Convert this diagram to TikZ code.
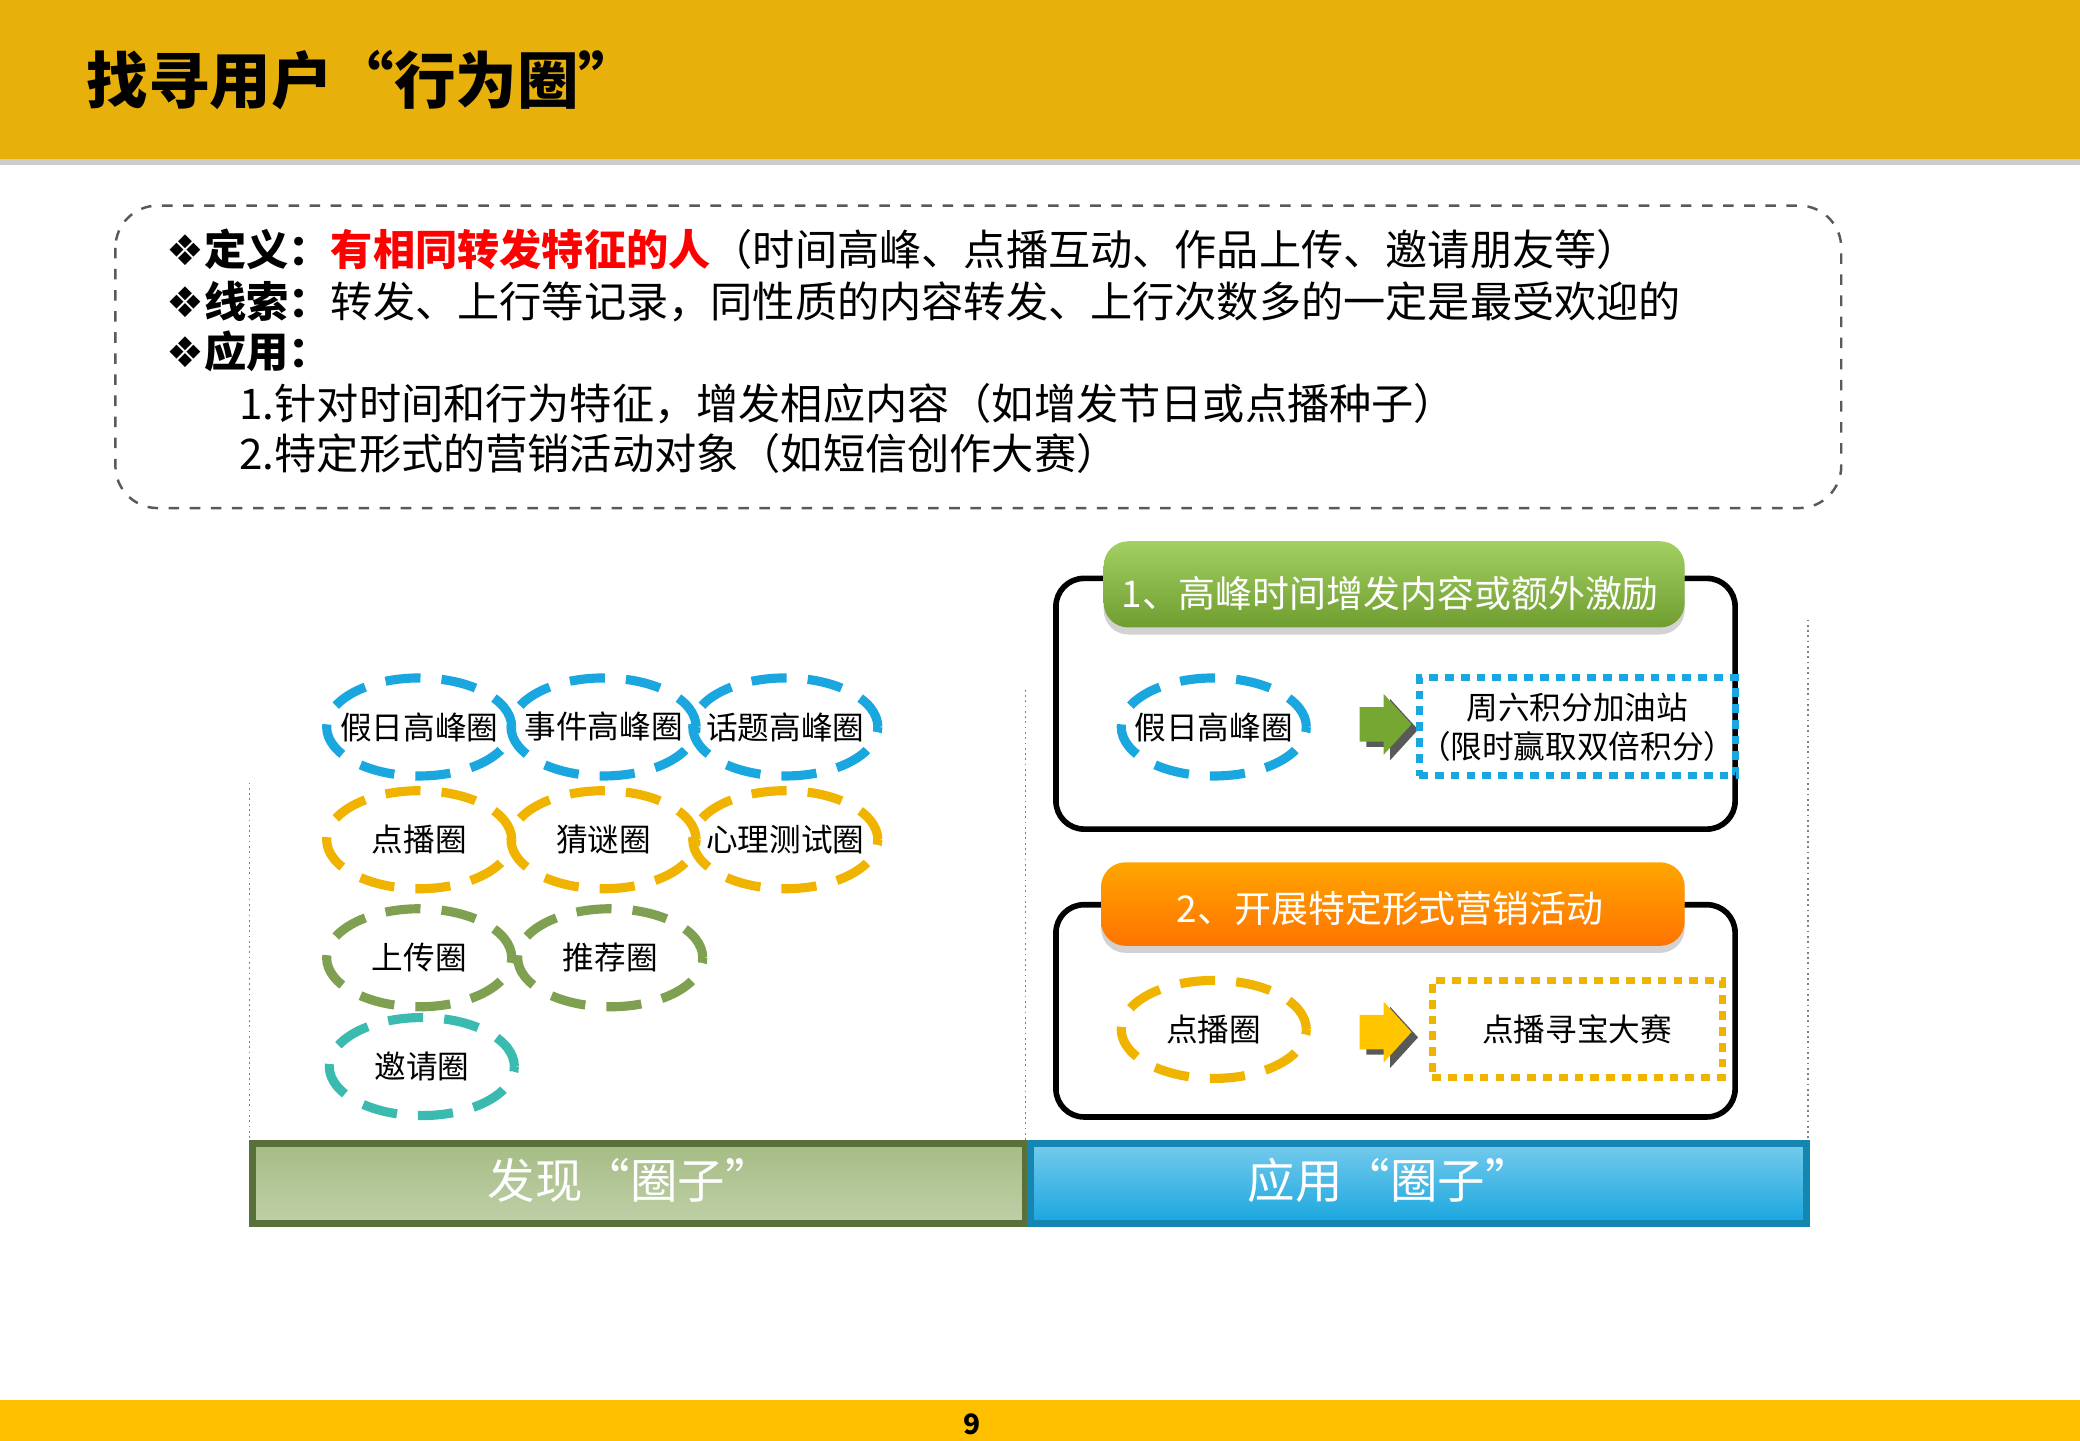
\documentclass[tikz,border=0pt]{standalone}
\usepackage{fontspec}
\setmainfont{Noto Sans CJK SC}
\newfontfamily\dejavu{DejaVu Sans}
\usetikzlibrary{shadows,shapes.geometric}
\definecolor{gold}{HTML}{E8B00A}
\definecolor{foot}{HTML}{FFC000}
\definecolor{cblue}{HTML}{1AA7DF}
\definecolor{corange}{HTML}{F0B400}
\definecolor{cgreen}{HTML}{7FA050}
\definecolor{cteal}{HTML}{3BBBB0}
\definecolor{cred}{HTML}{FF0000}
\definecolor{hgreen}{HTML}{8CC43C}
\tikzset{
 circ/.style={ellipse,draw=#1,line width=2.6pt,dash pattern=on 10pt off 6pt,minimum width=1.85cm,minimum height=0.98cm,inner xsep=-14pt,inner ysep=0pt,font=\fontsize{9}{10}\selectfont},
 frame/.style={draw=black,line width=1.6pt,rounded corners=8pt},
 head/.style={rounded corners=7pt,text=white,font=\fontsize{10.5}{12}\selectfont,drop shadow={shadow xshift=0pt,shadow yshift=-2pt,fill=gray!70}},
 bar/.style={text=white,font=\fontsize{13.5}{15}\selectfont},
 target/.style={draw=#1,line width=2pt,dash pattern=on 2.5pt off 2pt,align=center,inner sep=0pt,font=\fontsize{9}{11}\selectfont},
 vline/.style={draw=gray,densely dotted,line width=0.5pt},
 txt/.style={anchor=west,font=\fontsize{12}{13}\selectfont,inner sep=0pt}
}
\begin{document}
\begin{tikzpicture}[x=0.013265cm,y=-0.013265cm]
\useasboundingbox (0,0) rectangle (1568,1086);
\fill[gray!40] (0,118) rectangle (1568,124);
\fill[gold] (0,0) rectangle (1568,120);
\node[anchor=west,font=\bfseries\fontsize{17.5}{19}\selectfont] (title) at (56,60) {找寻用户“行为圈”};
\draw[gray!70!black,dashed,rounded corners=12pt,line width=0.7pt] (87,155) rectangle (1388,383);
\node[txt] (l1) at (125,188) {{\dejavu ❖}\textbf{定义：}\textbf{\color{cred}有相同转发特征的人}（时间高峰、点播互动、作品上传、邀请朋友等）};
\node[txt] (l2) at (125,227) {{\dejavu ❖}\textbf{线索：}转发、上行等记录，同性质的内容转发、上行次数多的一定是最受欢迎的};
\node[txt] (l3) at (125,265) {{\dejavu ❖}\textbf{应用：}};
\node[txt] (l4) at (180,304) {1.针对时间和行为特征，增发相应内容（如增发节日或点播种子）};
\node[txt] (l5) at (180,342) {2.特定形式的营销活动对象（如短信创作大赛）};
% dotted lines
\draw[vline] (188,590) -- (188,925);
\draw[vline] (773,520) -- (773,925);
\draw[vline] (1363,467) -- (1363,925);
% bars
\shade[top color=cgreen!70!white,bottom color=cgreen!50!white] (190,862) rectangle (773,922);
\draw[cgreen!70!black,line width=2pt] (190,862) rectangle (773,922);
\node[bar] (b1) at (475,890) {发现“圈子”};
\shade[top color=cblue!60!white,bottom color=cblue] (777,862) rectangle (1362,922);
\draw[cblue!80!black,line width=2pt] (777,862) rectangle (1362,922);
\node[bar] (b2) at (1048,890) {应用“圈子”};
% circles
\node[circ=cblue] (a1) at (316,548) {假日高峰圈};
\node[circ=cblue] (a2) at (455,548) {事件高峰圈};
\node[circ=cblue] (a3) at (592,548) {话题高峰圈};
\node[circ=corange] (b1c) at (316,633) {点播圈};
\node[circ=corange] (b2c) at (455,633) {猜谜圈};
\node[circ=corange] (b3c) at (592,633) {心理测试圈};
\node[circ=cgreen] (c1) at (316,722) {上传圈};
\node[circ=cgreen] (c2) at (460,722) {推荐圈};
\node[circ=cteal] (d1) at (318,804) {邀请圈};
% panel 1
\draw[frame] (796,436) rectangle (1308,625);
\shade[head,top color=hgreen!80!white,bottom color=hgreen!80!black,rounded corners=7pt] (832,408) rectangle (1270,473);
\node[text=white,font=\fontsize{10.5}{12}\selectfont] (h1) at (1048,447) {1、高峰时间增发内容或额外激励};
\node[circ=cblue] (p1) at (915,548) {假日高峰圈};
\fill[gray!70!black] (1030,537)--(1048,537)--(1048,527)--(1069,550)--(1048,573)--(1048,563)--(1030,563)--cycle;
\fill[hgreen!85!black] (1025,533)--(1043,533)--(1043,523)--(1064,546)--(1043,569)--(1043,559)--(1025,559)--cycle;
\node[target=cblue,minimum width=2.9cm,minimum height=0.98cm] (t1) at (1189,548) {周六积分加油站\\（限时赢取双倍积分）};
% panel 2
\draw[frame] (796,682) rectangle (1308,842);
\shade[head,top color=orange!70!yellow,bottom color=orange!90!red,rounded corners=7pt] (830,650) rectangle (1270,713);
\node[text=white,font=\fontsize{10.5}{12}\selectfont] (h2) at (1048,685) {2、开展特定形式营销活动};
\node[circ=corange] (p2) at (915,776) {点播圈};
\fill[gray!70!black] (1030,769)--(1048,769)--(1048,759)--(1069,782)--(1048,805)--(1048,795)--(1030,795)--cycle;
\fill[foot!90!yellow] (1025,765)--(1043,765)--(1043,755)--(1064,778)--(1043,801)--(1043,791)--(1025,791)--cycle;
\node[target=corange,minimum width=2.9cm,minimum height=0.97cm] (t2) at (1189,776) {点播寻宝大赛};
% footer
\fill[foot] (0,1055) rectangle (1568,1086);
\node[font=\bfseries\fontsize{8}{9}\selectfont] (pg) at (733,1074) {9};
\end{tikzpicture}
\end{document}
